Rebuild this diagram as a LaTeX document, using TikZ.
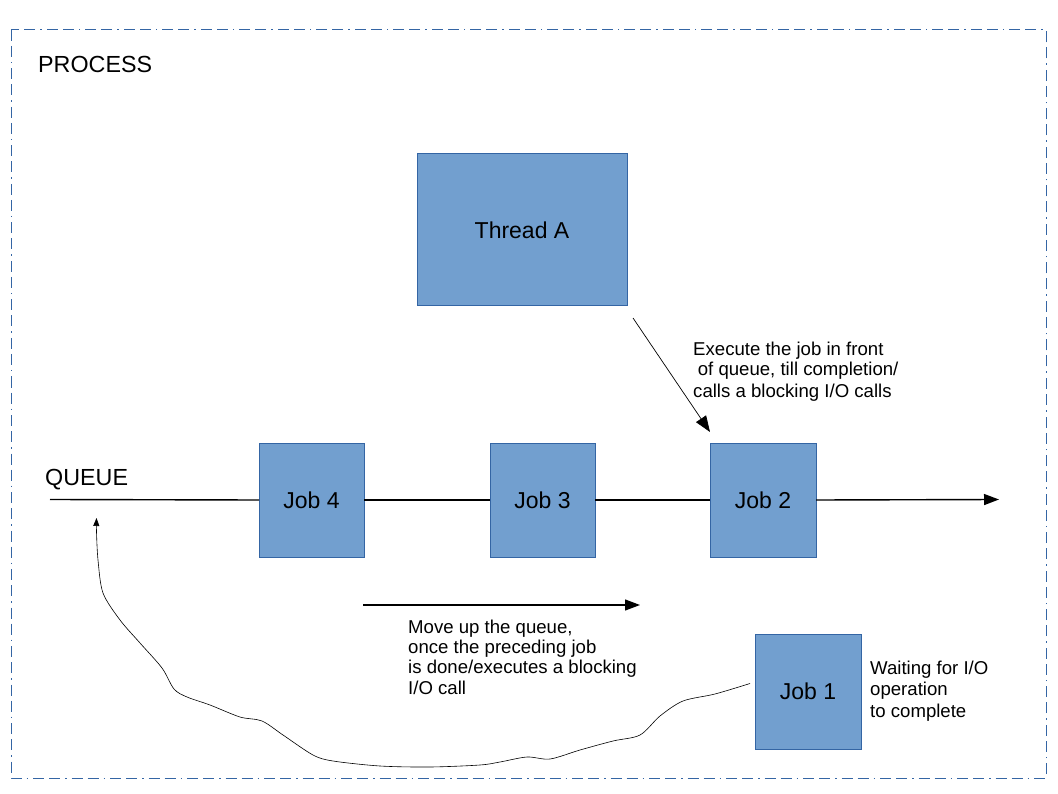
\documentclass[tikz,border=0pt]{standalone}
\usepackage{fontspec}
\setmainfont{Liberation Sans}
\usetikzlibrary{arrows.meta}
\definecolor{boxfill}{HTML}{729FCF}
\definecolor{boxline}{HTML}{3465A4}
\begin{document}
\begin{tikzpicture}[x=1pt,y=-1pt,
  jobbox/.style={draw=boxline,fill=boxfill,line width=1pt,inner sep=0pt,outer sep=0pt,
    minimum width=105pt,minimum height=114pt,font=\fontsize{23}{27}\selectfont},
  note/.style={inner sep=0pt,align=left,anchor=base west,font=\fontsize{18.6}{21}\selectfont},
  bigtip/.style={-{Triangle[length=15pt,width=11pt]}},
]
\useasboundingbox (0,0) rectangle (1058,794);
% process frame
\draw[boxline,line width=1pt,dash pattern=on 11pt off 5pt on 11pt off 5pt on 1.5pt off 5pt]
  (11,30) rectangle (1046,778);
\node[anchor=base west,inner sep=0pt,font=\fontsize{23.3}{27}\selectfont] (proc) at (38,73) {PROCESS};

% thread
\node[jobbox,minimum width=210pt,minimum height=152pt] (thread) at (522,230) {Thread A};

% queue
\node[anchor=base west,inner sep=0pt,font=\fontsize{23.3}{27}\selectfont] (queue) at (45,485) {QUEUE};
\coordinate (qstart) at (50,499.5);
\coordinate (qend) at (999,499.5);
\node[jobbox] (job4) at (311.5,500) {Job 4};
\node[jobbox] (job3) at (542.5,500) {Job 3};
\node[jobbox,minimum width=106pt] (job2) at (763,500) {Job 2};
\node[jobbox,minimum width=106pt,minimum height=115pt] (job1) at (808,691.5) {Job 1};

\draw[line width=1.4pt] (qstart) -- (job4.west);
\draw[line width=1.4pt] (job4.east) -- (job3.west);
\draw[line width=1.4pt] (job3.east) -- (job2.west);
\draw[line width=1.4pt,bigtip] (job2.east) -- (qend);

% thread picks the front job
\draw[line width=0.7pt,-{Triangle[length=16pt,width=12pt]}]
  ([shift={(6,12)}]thread.south east) -- ([shift={(0,-11)}]job2.north west);
% multi-line notes: the base anchor sits on the last line
\node[note] (exec) at (693,397) {Execute the job in front\\\hspace{0.25em}of queue, till completion/\\calls a blocking I/O calls};

% jobs advance
\coordinate (mvstart) at (363,605);
\coordinate (mvend) at (640,605);
\draw[line width=1.2pt,bigtip] (mvstart) -- (mvend);
\node[note,font=\fontsize{18.6}{20.3}\selectfont] (move) at (408,694) {Move up the queue,\\once the preceding job\\is done/executes a blocking\\I/O call};

% waiting job returns to the queue
\node[note,font=\fontsize{18.6}{21.5}\selectfont] (wait) at (870,717) {Waiting for I/O\\operation\\to complete};
\coordinate (wstart) at ([shift={(-5,-8)}]job1.west);
\coordinate (wend) at (96.5,518);
\draw[line width=0.6pt,-{Triangle[length=8pt,width=6pt]}] plot[smooth,tension=0.5] coordinates {
  (wstart) (715,694) (683,701) (660,716) (640,735) (613,741) (580,750) (550,759)
  (527,757) (500,762) (480,765) (430,767) (380,766) (333,761) (313,755) (283,735)
  (262,721) (240,717) (210,705) (187,697) (174,689) (162,668) (140,643) (120,620)
  (103,593) (98,560) (96.5,532) (wend)};
\end{tikzpicture}
\end{document}
